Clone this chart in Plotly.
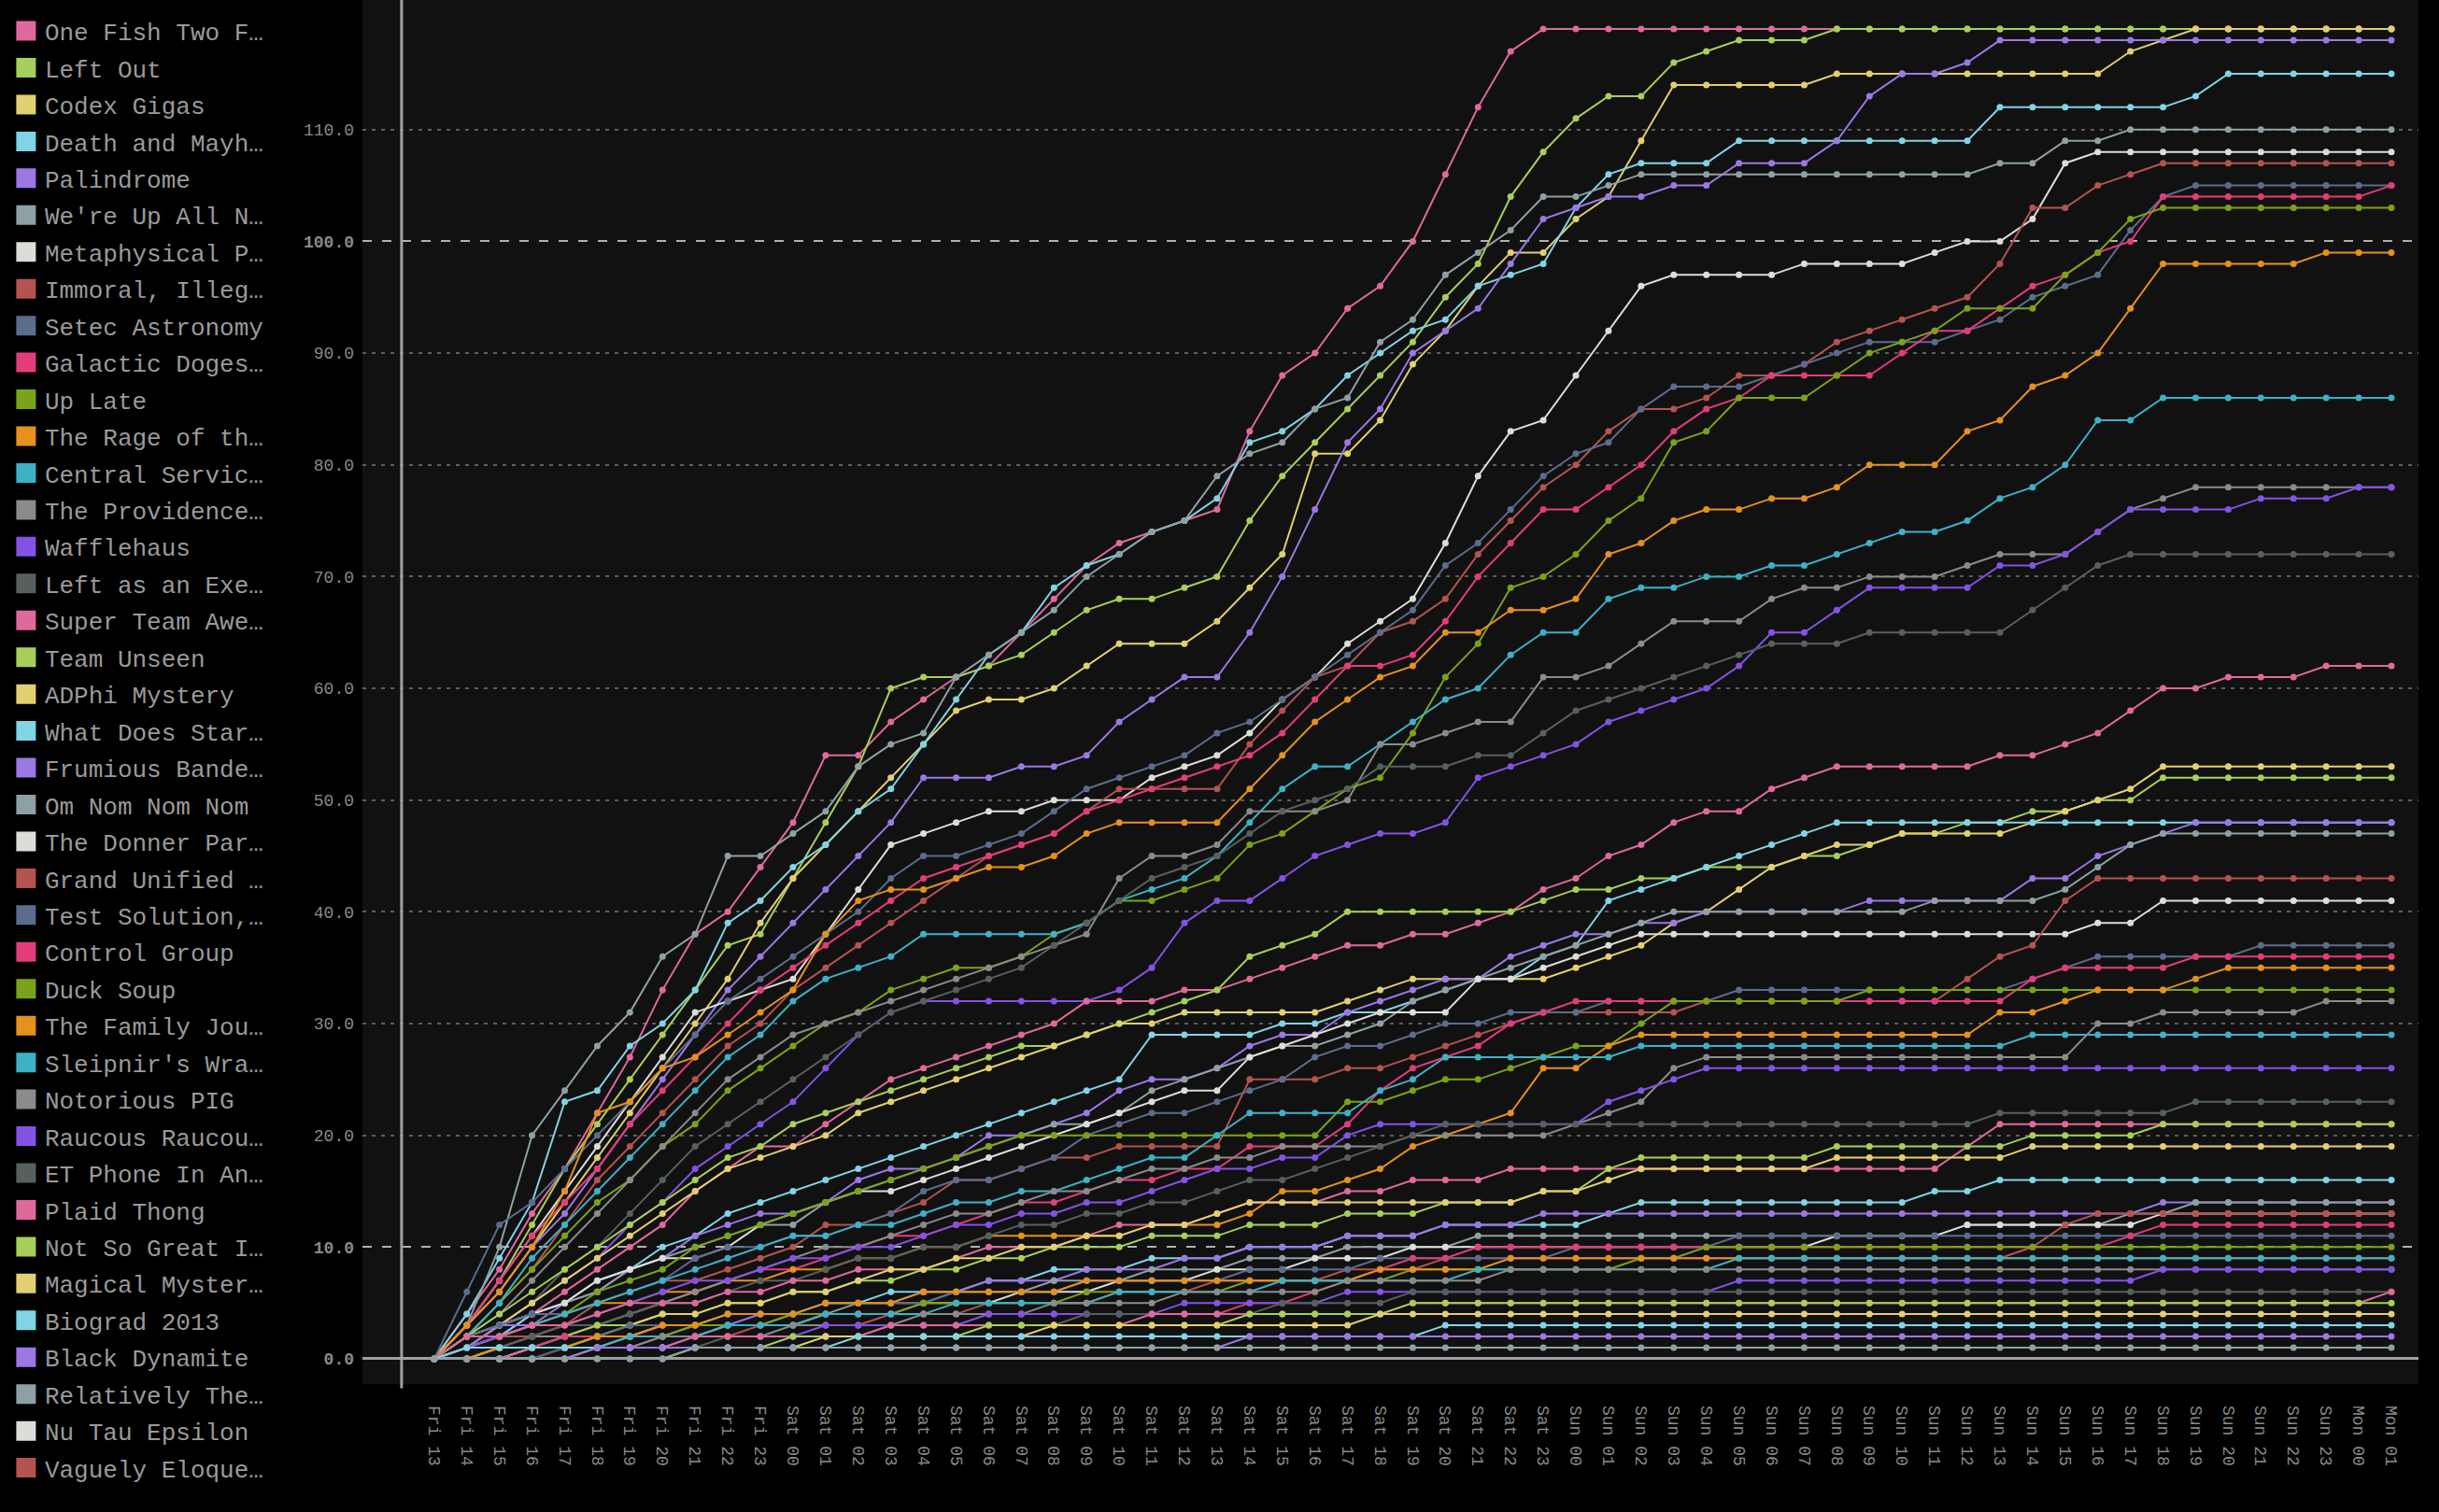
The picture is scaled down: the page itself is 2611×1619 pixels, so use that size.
import plotly.graph_objects as go

# hourly checkpoints, Fri 13:00 -> Mon 01:00
hours = ([f"Fri {h:02d}" for h in range(13, 24)]
         + [f"Sat {h:02d}" for h in range(24)]
         + [f"Sun {h:02d}" for h in range(24)]
         + ["Mon 00", "Mon 01"])

one_fish = [0, 4, 8, 13, 17, 22, 27, 33, 38, 40,
            44, 48, 54, 54, 57, 59, 61, 62, 65, 68,
            71, 73, 74, 75, 76, 83, 88, 90, 94, 96,
            100, 106, 112, 117, 119, 119, 119, 119, 119, 119,
            119, 119, 119, 119, 119, 119, 119, 119, 119, 119,
            119, 119, 119, 119, 119, 119, 119, 119, 119, 119, 119]
left_out = [0, 3, 7, 12, 17, 21, 25, 29, 33, 37,
            38, 43, 48, 53, 60, 61, 61, 62, 63, 65,
            67, 68, 68, 69, 70, 75, 79, 82, 85, 88,
            91, 95, 98, 104, 108, 111, 113, 113, 116, 117,
            118, 118, 118, 119, 119, 119, 119, 119, 119, 119,
            119, 119, 119, 119, 119, 119, 119, 119, 119, 119, 119]
codex_gigas = [0, 3, 6, 10, 14, 18, 22, 26, 30, 34,
               39, 43, 46, 49, 52, 55, 58, 59, 59, 60,
               62, 64, 64, 64, 66, 69, 72, 81, 81, 84,
               89, 92, 96, 99, 99, 102, 104, 109, 114, 114,
               114, 114, 114, 115, 115, 115, 115, 115, 115, 115,
               115, 115, 117, 118, 119, 119, 119, 119, 119, 119, 119]
death_mayhem = [0, 4, 9, 14, 23, 24, 28, 30, 33, 39,
                41, 44, 46, 49, 51, 55, 59, 63, 65, 69,
                71, 72, 74, 75, 77, 82, 83, 85, 88, 90,
                92, 93, 96, 97, 98, 103, 106, 107, 107, 107,
                109, 109, 109, 109, 109, 109, 109, 109, 112, 112,
                112, 112, 112, 112, 113, 115, 115, 115, 115, 115, 115]
palindrome = [0, 3, 6, 10, 13, 17, 21, 25, 29, 33,
              36, 39, 42, 45, 48, 52, 52, 52, 53, 53,
              54, 57, 59, 61, 61, 65, 70, 76, 82, 85,
              90, 92, 94, 98, 102, 103, 104, 104, 105, 105,
              107, 107, 107, 109, 113, 115, 115, 116, 118, 118,
              118, 118, 118, 118, 118, 118, 118, 118, 118, 118, 118]
up_all_night = [0, 3, 10, 20, 24, 28, 31, 36, 38, 45,
                45, 47, 49, 53, 55, 56, 61, 63, 65, 67,
                70, 72, 74, 75, 79, 81, 82, 85, 86, 91,
                93, 97, 99, 101, 104, 104, 105, 106, 106, 106,
                106, 106, 106, 106, 106, 106, 106, 106, 107, 107,
                109, 109, 110, 110, 110, 110, 110, 110, 110, 110, 110]
metaphysical = [0, 3, 7, 11, 15, 19, 23, 27, 31, 32,
                33, 34, 38, 42, 46, 47, 48, 49, 49, 50,
                50, 50, 52, 53, 54, 56, 59, 61, 64, 66,
                68, 73, 79, 83, 84, 88, 92, 96, 97, 97,
                97, 97, 98, 98, 98, 98, 99, 100, 100, 102,
                107, 108, 108, 108, 108, 108, 108, 108, 108, 108, 108]
immoral = [0, 2, 5, 8, 12, 16, 19, 22, 25, 28,
           30, 33, 35, 37, 39, 41, 43, 45, 46, 47,
           49, 51, 51, 51, 51, 55, 58, 61, 62, 65,
           66, 68, 72, 75, 78, 80, 83, 85, 85, 86,
           88, 88, 89, 91, 92, 93, 94, 95, 98, 103,
           103, 105, 106, 107, 107, 107, 107, 107, 107, 107, 107]
setec = [0, 6, 12, 14, 17, 20, 23, 26, 29, 32,
         34, 36, 38, 40, 43, 45, 45, 46, 47, 49,
         51, 52, 53, 54, 56, 57, 59, 61, 63, 65,
         67, 71, 73, 76, 79, 81, 82, 85, 87, 87,
         87, 88, 89, 90, 91, 91, 91, 92, 93, 95,
         96, 97, 101, 104, 105, 105, 105, 105, 105, 105, 105]
galactic = [0, 3, 7, 11, 14, 17, 21, 24, 27, 30,
            33, 35, 37, 39, 41, 43, 44, 45, 46, 47,
            49, 50, 51, 52, 53, 54, 56, 59, 62, 62,
            63, 66, 70, 73, 76, 76, 78, 80, 83, 85,
            86, 88, 88, 88, 88, 90, 92, 92, 94, 96,
            97, 99, 100, 104, 104, 104, 104, 104, 104, 104, 105]
up_late = [0, 2, 5, 8, 11, 14, 16, 19, 21, 24,
           26, 28, 30, 31, 33, 34, 35, 35, 36, 38,
           39, 41, 41, 42, 43, 46, 47, 49, 51, 52,
           56, 61, 64, 69, 70, 72, 75, 77, 82, 83,
           86, 86, 86, 88, 90, 91, 92, 94, 94, 94,
           97, 99, 102, 103, 103, 103, 103, 103, 103, 103, 103]
rage = [0, 3, 6, 10, 15, 22, 23, 26, 27, 29,
        31, 33, 38, 41, 42, 42, 43, 44, 44, 45,
        47, 48, 48, 48, 48, 51, 54, 57, 59, 61,
        62, 65, 65, 67, 67, 68, 72, 73, 75, 76,
        76, 77, 77, 78, 80, 80, 80, 83, 84, 87,
        88, 90, 94, 98, 98, 98, 98, 98, 99, 99, 99]
central = [0, 2, 5, 9, 12, 15, 18, 21, 24, 27,
           29, 32, 34, 35, 36, 38, 38, 38, 38, 38,
           39, 41, 42, 43, 45, 48, 51, 53, 53, 55,
           57, 59, 60, 63, 65, 65, 68, 69, 69, 70,
           70, 71, 71, 72, 73, 74, 74, 75, 77, 78,
           80, 84, 84, 86, 86, 86, 86, 86, 86, 86, 86]
providence = [0, 2, 4, 7, 10, 13, 16, 19, 22, 25,
              27, 29, 30, 31, 32, 33, 34, 35, 36, 37,
              38, 43, 45, 45, 46, 49, 49, 49, 50, 55,
              55, 56, 57, 57, 61, 61, 62, 64, 66, 66,
              66, 68, 69, 69, 70, 70, 70, 71, 72, 72,
              72, 74, 76, 77, 78, 78, 78, 78, 78, 78, 78]
wafflehaus = [0, 1, 3, 5, 7, 9, 12, 14, 17, 19,
              21, 23, 26, 29, 31, 32, 32, 32, 32, 32,
              32, 33, 35, 39, 41, 41, 43, 45, 46, 47,
              47, 48, 52, 53, 54, 55, 57, 58, 59, 60,
              62, 65, 65, 67, 69, 69, 69, 69, 71, 71,
              72, 74, 76, 76, 76, 76, 77, 77, 77, 78, 78]
exercise = [0, 1, 3, 5, 8, 10, 13, 16, 19, 21,
            23, 25, 27, 29, 31, 32, 33, 34, 35, 37,
            39, 41, 43, 44, 45, 47, 49, 50, 51, 53,
            53, 53, 54, 54, 56, 58, 59, 60, 61, 62,
            63, 64, 64, 64, 65, 65, 65, 65, 65, 67,
            69, 71, 72, 72, 72, 72, 72, 72, 72, 72, 72]
super_team = [0, 1, 2, 4, 6, 8, 10, 12, 15, 17,
              19, 19, 21, 23, 25, 26, 27, 28, 29, 30,
              32, 32, 32, 33, 33, 34, 35, 36, 37, 37,
              38, 38, 39, 40, 42, 43, 45, 46, 48, 49,
              49, 51, 52, 53, 53, 53, 53, 53, 54, 54,
              55, 56, 58, 60, 60, 61, 61, 61, 62, 62, 62]
team_unseen = [0, 2, 4, 6, 8, 10, 12, 14, 16, 18,
               19, 21, 22, 23, 24, 25, 26, 27, 28, 28,
               29, 30, 31, 32, 33, 36, 37, 38, 40, 40,
               40, 40, 40, 40, 41, 42, 42, 43, 43, 44,
               44, 44, 45, 45, 46, 47, 47, 48, 48, 49,
               49, 50, 50, 52, 52, 52, 52, 52, 52, 52, 52]
adphi = [0, 1, 3, 5, 7, 9, 11, 13, 15, 17,
         18, 19, 20, 22, 23, 24, 25, 26, 27, 28,
         29, 30, 30, 31, 31, 31, 31, 31, 32, 33,
         34, 34, 34, 34, 34, 35, 36, 37, 39, 40,
         42, 44, 45, 46, 46, 47, 47, 47, 47, 48,
         49, 50, 51, 53, 53, 53, 53, 53, 53, 53, 53]
what_does = [0, 1, 2, 4, 5, 7, 8, 10, 11, 13,
             14, 15, 16, 17, 18, 19, 20, 21, 22, 23,
             24, 25, 29, 29, 29, 29, 30, 30, 31, 31,
             32, 33, 34, 34, 36, 37, 41, 42, 43, 44,
             45, 46, 47, 48, 48, 48, 48, 48, 48, 48,
             48, 48, 48, 48, 48, 48, 48, 48, 48, 48, 48]
frumious = [0, 1, 3, 3, 5, 6, 8, 9, 11, 12,
            13, 13, 14, 16, 17, 17, 18, 20, 20, 21,
            22, 24, 25, 25, 26, 28, 29, 29, 31, 32,
            33, 34, 34, 36, 37, 38, 38, 39, 39, 40,
            40, 40, 40, 40, 41, 41, 41, 41, 41, 43,
            43, 45, 46, 47, 48, 48, 48, 48, 48, 48, 48]
om_nom = [0, 2, 3, 4, 5, 6, 8, 9, 10, 11,
          12, 12, 14, 15, 16, 17, 18, 19, 20, 21,
          21, 22, 24, 25, 26, 27, 28, 28, 29, 30,
          32, 33, 34, 35, 36, 37, 38, 39, 40, 40,
          40, 40, 40, 40, 40, 40, 41, 41, 41, 41,
          42, 44, 46, 47, 47, 47, 47, 47, 47, 47, 47]
donner = [0, 2, 3, 4, 5, 7, 8, 9, 9, 10,
          12, 13, 14, 15, 15, 16, 17, 18, 19, 20,
          21, 22, 23, 24, 24, 27, 28, 29, 30, 31,
          31, 31, 34, 34, 35, 36, 37, 38, 38, 38,
          38, 38, 38, 38, 38, 38, 38, 38, 38, 38,
          38, 39, 39, 41, 41, 41, 41, 41, 41, 41, 41]
grand_unified = [0, 1, 2, 2, 3, 5, 6, 7, 7, 8,
                 9, 10, 12, 12, 13, 14, 16, 16, 17, 18,
                 18, 19, 19, 19, 19, 25, 25, 25, 26, 26,
                 27, 28, 29, 30, 31, 31, 31, 31, 31, 32,
                 32, 32, 32, 32, 32, 32, 32, 34, 36, 37,
                 41, 43, 43, 43, 43, 43, 43, 43, 43, 43, 43]
test_solution = [0, 2, 3, 4, 4, 5, 6, 7, 9, 10,
                 10, 11, 11, 12, 13, 15, 16, 16, 17, 18,
                 20, 21, 22, 22, 23, 24, 25, 27, 28, 28,
                 29, 30, 30, 31, 31, 31, 32, 32, 32, 32,
                 33, 33, 33, 33, 33, 33, 33, 33, 33, 34,
                 35, 36, 36, 36, 36, 36, 37, 37, 37, 37, 37]
control_group = [0, 1, 1, 2, 3, 3, 4, 5, 6, 7,
                 8, 8, 9, 10, 11, 11, 12, 13, 14, 14,
                 15, 16, 16, 17, 17, 19, 19, 19, 21, 24,
                 26, 27, 28, 30, 31, 32, 32, 32, 32, 32,
                 32, 32, 32, 32, 32, 32, 32, 32, 32, 34,
                 35, 35, 35, 35, 36, 36, 36, 36, 36, 36, 36]
duck_soup = [0, 1, 2, 3, 4, 6, 7, 8, 10, 11,
             12, 13, 14, 15, 16, 17, 18, 19, 20, 20,
             20, 20, 20, 20, 20, 20, 20, 20, 23, 23,
             24, 25, 25, 26, 27, 28, 28, 30, 32, 32,
             32, 32, 32, 32, 33, 33, 33, 33, 33, 33,
             33, 33, 33, 33, 33, 33, 33, 33, 33, 33, 33]
family = [0, 1, 2, 3, 4, 5, 5, 6, 6, 7,
          7, 8, 8, 9, 9, 10, 10, 11, 11, 11,
          11, 11, 12, 12, 12, 13, 15, 15, 16, 17,
          19, 20, 21, 22, 26, 26, 28, 29, 29, 29,
          29, 29, 29, 29, 29, 29, 29, 29, 31, 31,
          32, 33, 33, 33, 34, 35, 35, 35, 35, 35, 35]
sleipnir = [0, 1, 2, 3, 4, 5, 6, 7, 8, 9,
            10, 11, 11, 12, 12, 13, 14, 14, 15, 15,
            16, 17, 18, 18, 20, 22, 22, 22, 22, 24,
            25, 27, 27, 27, 27, 27, 27, 28, 28, 28,
            28, 28, 28, 28, 28, 28, 28, 28, 28, 29,
            29, 29, 29, 29, 29, 29, 29, 29, 29, 29, 29]
notorious = [0, 1, 1, 2, 2, 3, 4, 5, 6, 7,
             8, 9, 10, 10, 11, 12, 13, 13, 14, 15,
             15, 16, 17, 17, 18, 18, 19, 19, 19, 19,
             20, 20, 20, 20, 20, 21, 22, 23, 26, 27,
             27, 27, 27, 27, 27, 27, 27, 27, 27, 27,
             27, 30, 30, 31, 31, 31, 31, 31, 32, 32, 32]
raucous = [0, 1, 2, 3, 3, 4, 5, 6, 7, 7,
           8, 9, 9, 10, 10, 11, 12, 12, 13, 13,
           14, 14, 15, 16, 17, 17, 18, 18, 20, 21,
           21, 21, 21, 21, 21, 21, 23, 24, 25, 26,
           26, 26, 26, 26, 26, 26, 26, 26, 26, 26,
           26, 26, 26, 26, 26, 26, 26, 26, 26, 26, 26]
et_phone = [0, 1, 1, 2, 3, 3, 4, 5, 5, 6,
            7, 7, 8, 9, 9, 10, 10, 11, 12, 12,
            13, 13, 14, 14, 15, 16, 16, 17, 18, 19,
            20, 21, 21, 21, 21, 21, 21, 21, 21, 21,
            21, 21, 21, 21, 21, 21, 21, 21, 22, 22,
            22, 22, 22, 22, 23, 23, 23, 23, 23, 23, 23]
plaid_thong = [0, 2, 2, 3, 3, 4, 5, 5, 5, 6,
               6, 7, 7, 8, 8, 8, 9, 10, 10, 10,
               11, 12, 12, 12, 13, 14, 14, 14, 15, 15,
               16, 16, 16, 17, 17, 17, 17, 17, 17, 17,
               17, 17, 17, 17, 17, 17, 17, 19, 21, 21,
               21, 21, 21, 21, 21, 21, 21, 21, 21, 21, 21]
not_so_great = [0, 0, 1, 1, 2, 3, 3, 4, 4, 5,
                5, 6, 6, 7, 7, 8, 8, 9, 9, 10,
                10, 10, 11, 11, 11, 12, 12, 12, 13, 13,
                13, 14, 14, 14, 15, 15, 17, 18, 18, 18,
                18, 18, 18, 19, 19, 19, 19, 19, 19, 20,
                20, 20, 20, 21, 21, 21, 21, 21, 21, 21, 21]
magical = [0, 0, 1, 1, 2, 2, 3, 4, 4, 5,
           5, 6, 6, 7, 8, 8, 9, 9, 10, 10,
           11, 11, 12, 12, 13, 14, 14, 14, 14, 14,
           14, 14, 14, 14, 15, 15, 16, 17, 17, 17,
           17, 17, 17, 18, 18, 18, 18, 18, 18, 19,
           19, 19, 19, 19, 19, 19, 19, 19, 19, 19, 19]
biograd = [0, 0, 1, 1, 1, 2, 2, 3, 3, 4,
           4, 4, 5, 5, 6, 6, 6, 7, 7, 8,
           8, 8, 9, 9, 9, 10, 10, 10, 11, 11,
           11, 12, 12, 12, 12, 12, 13, 14, 14, 14,
           14, 14, 14, 14, 14, 14, 15, 15, 16, 16,
           16, 16, 16, 16, 16, 16, 16, 16, 16, 16, 16]
black_dynamite = [0, 0, 0, 1, 1, 2, 2, 3, 3, 3,
                  4, 4, 5, 5, 5, 6, 6, 7, 7, 7,
                  8, 8, 8, 9, 9, 10, 10, 10, 11, 11,
                  11, 12, 12, 12, 13, 13, 13, 13, 13, 13,
                  13, 13, 13, 13, 13, 13, 13, 13, 13, 13,
                  13, 13, 13, 14, 14, 14, 14, 14, 14, 14, 14]
relatively = [0, 0, 1, 1, 1, 2, 2, 2, 3, 3,
              3, 4, 4, 5, 5, 5, 6, 6, 6, 7,
              7, 7, 8, 8, 8, 9, 9, 9, 10, 10,
              10, 10, 11, 11, 11, 11, 11, 11, 11, 11,
              11, 11, 11, 11, 11, 11, 11, 12, 12, 12,
              12, 12, 13, 13, 14, 14, 14, 14, 14, 14, 14]
nu_tau = [0, 0, 0, 1, 1, 1, 2, 2, 2, 3,
          3, 3, 4, 4, 4, 5, 5, 5, 6, 6,
          6, 7, 7, 7, 8, 8, 8, 9, 9, 9,
          10, 10, 10, 10, 10, 10, 10, 10, 10, 10,
          10, 10, 10, 11, 11, 11, 11, 12, 12, 12,
          12, 12, 12, 13, 13, 13, 13, 13, 13, 13, 13]
vaguely = [0, 0, 0, 0, 1, 1, 1, 2, 2, 2,
           3, 3, 3, 3, 4, 4, 4, 5, 5, 5,
           5, 6, 6, 6, 7, 7, 7, 7, 8, 8,
           8, 9, 9, 9, 9, 9, 9, 9, 9, 9,
           9, 9, 9, 9, 9, 9, 9, 9, 9, 10,
           12, 13, 13, 13, 13, 13, 13, 13, 13, 13, 13]
# teams below the visible part of the legend
rank41 = [0, 0, 1, 1, 2, 2, 3, 3, 3, 4,
          4, 4, 5, 5, 5, 5, 6, 6, 6, 6,
          7, 7, 7, 7, 7, 8, 8, 8, 8, 9,
          9, 9, 9, 9, 9, 10, 10, 10, 10, 10,
          11, 11, 11, 11, 11, 11, 11, 11, 11, 11,
          11, 11, 11, 11, 11, 11, 11, 11, 11, 11, 11]
rank42 = [0, 0, 1, 1, 2, 2, 2, 3, 3, 3,
          3, 3, 4, 4, 4, 4, 4, 4, 4, 4,
          4, 4, 4, 4, 4, 5, 5, 6, 7, 8,
          9, 9, 10, 10, 10, 10, 10, 10, 10, 10,
          10, 10, 10, 10, 10, 10, 10, 10, 10, 10,
          10, 10, 11, 12, 12, 12, 12, 12, 12, 12, 12]
rank43 = [0, 0, 1, 1, 1, 2, 2, 2, 3, 3,
          3, 4, 4, 4, 4, 5, 5, 5, 5, 5,
          6, 6, 6, 6, 6, 7, 7, 7, 7, 7,
          8, 8, 8, 8, 8, 8, 8, 9, 9, 10,
          10, 10, 10, 10, 10, 10, 10, 10, 10, 10,
          10, 10, 10, 10, 10, 10, 10, 10, 10, 10, 10]
rank44 = [0, 0, 1, 1, 1, 2, 2, 3, 3, 4,
          4, 4, 5, 5, 5, 6, 6, 6, 6, 6,
          7, 7, 7, 7, 7, 7, 7, 7, 7, 8,
          8, 8, 8, 9, 9, 9, 9, 9, 9, 9,
          9, 9, 9, 9, 9, 9, 9, 9, 9, 9,
          9, 9, 9, 9, 9, 9, 9, 9, 9, 9, 9]
rank45 = [0, 0, 0, 1, 1, 1, 2, 2, 2, 3,
          3, 3, 4, 4, 4, 4, 5, 5, 5, 5,
          5, 6, 6, 6, 6, 6, 7, 7, 7, 7,
          7, 7, 8, 8, 8, 8, 8, 8, 8, 8,
          9, 9, 9, 9, 9, 9, 9, 9, 9, 9,
          9, 9, 9, 9, 9, 9, 9, 9, 9, 9, 9]
rank46 = [0, 0, 0, 1, 1, 1, 1, 2, 2, 2,
          2, 3, 3, 3, 3, 4, 4, 4, 4, 5,
          5, 5, 5, 6, 6, 6, 6, 6, 7, 7,
          7, 7, 7, 8, 8, 8, 8, 8, 8, 8,
          8, 8, 8, 8, 8, 8, 8, 8, 8, 8,
          8, 8, 8, 8, 8, 8, 8, 8, 8, 8, 8]
rank47 = [0, 0, 0, 0, 1, 1, 1, 1, 2, 2,
          2, 2, 3, 3, 3, 3, 3, 4, 4, 4,
          4, 4, 4, 5, 5, 5, 5, 5, 6, 6,
          6, 6, 6, 6, 6, 6, 6, 6, 6, 6,
          7, 7, 7, 7, 7, 7, 7, 7, 7, 7,
          7, 7, 7, 8, 8, 8, 8, 8, 8, 8, 8]
rank48 = [0, 0, 0, 0, 1, 1, 1, 1, 1, 2,
          2, 2, 2, 2, 3, 3, 3, 3, 3, 3,
          4, 4, 4, 4, 4, 4, 5, 5, 5, 5,
          6, 6, 6, 6, 6, 6, 6, 6, 6, 6,
          6, 6, 6, 6, 6, 6, 6, 6, 6, 6,
          6, 6, 6, 6, 6, 6, 6, 6, 6, 6, 6]
rank49 = [0, 0, 0, 1, 1, 1, 1, 1, 2, 2,
          2, 2, 2, 2, 3, 3, 3, 3, 3, 3,
          3, 3, 4, 4, 4, 4, 4, 4, 4, 4,
          5, 5, 5, 5, 5, 5, 5, 5, 5, 5,
          5, 5, 5, 5, 5, 5, 5, 5, 5, 5,
          5, 5, 5, 5, 5, 5, 5, 5, 5, 5, 6]
rank50 = [0, 0, 0, 0, 0, 1, 1, 1, 1, 1,
          1, 2, 2, 2, 2, 2, 2, 3, 3, 3,
          3, 3, 3, 3, 3, 4, 4, 4, 4, 4,
          5, 5, 5, 5, 5, 5, 5, 5, 5, 5,
          5, 5, 5, 5, 5, 5, 5, 5, 5, 5,
          5, 5, 5, 5, 5, 5, 5, 5, 5, 5, 5]
rank51 = [0, 0, 0, 0, 0, 0, 0, 0, 1, 1,
          1, 1, 2, 2, 2, 2, 2, 2, 2, 3,
          3, 3, 3, 3, 3, 3, 3, 3, 3, 4,
          4, 4, 4, 4, 4, 4, 4, 4, 4, 4,
          4, 4, 4, 4, 4, 4, 4, 4, 4, 4,
          4, 4, 4, 4, 4, 4, 4, 4, 4, 4, 4]
rank52 = [0, 1, 1, 1, 1, 1, 1, 1, 1, 1,
          1, 1, 1, 2, 2, 2, 2, 2, 2, 2,
          2, 2, 2, 2, 2, 2, 2, 2, 2, 2,
          2, 3, 3, 3, 3, 3, 3, 3, 3, 3,
          3, 3, 3, 3, 3, 3, 3, 3, 3, 3,
          3, 3, 3, 3, 3, 3, 3, 3, 3, 3, 3]
rank53 = [0, 0, 0, 0, 0, 1, 1, 1, 1, 1,
          1, 1, 1, 1, 1, 1, 1, 1, 1, 1,
          1, 1, 1, 1, 1, 2, 2, 2, 2, 2,
          2, 2, 2, 2, 2, 2, 2, 2, 2, 2,
          2, 2, 2, 2, 2, 2, 2, 2, 2, 2,
          2, 2, 2, 2, 2, 2, 2, 2, 2, 2, 2]
rank54 = [0, 0, 0, 0, 0, 0, 0, 0, 1, 1,
          1, 1, 1, 1, 1, 1, 1, 1, 1, 1,
          1, 1, 1, 1, 1, 1, 1, 1, 1, 1,
          1, 1, 1, 1, 1, 1, 1, 1, 1, 1,
          1, 1, 1, 1, 1, 1, 1, 1, 1, 1,
          1, 1, 1, 1, 1, 1, 1, 1, 1, 1, 1]

teams = [
    ("One Fish Two F…", one_fish), ("Left Out", left_out),
    ("Codex Gigas", codex_gigas), ("Death and Mayh…", death_mayhem),
    ("Palindrome", palindrome), ("We're Up All N…", up_all_night),
    ("Metaphysical P…", metaphysical), ("Immoral, Illeg…", immoral),
    ("Setec Astronomy", setec), ("Galactic Doges…", galactic),
    ("Up Late", up_late), ("The Rage of th…", rage),
    ("Central Servic…", central), ("The Providence…", providence),
    ("Wafflehaus", wafflehaus), ("Left as an Exe…", exercise),
    ("Super Team Awe…", super_team), ("Team Unseen", team_unseen),
    ("ADPhi Mystery", adphi), ("What Does Star…", what_does),
    ("Frumious Bande…", frumious), ("Om Nom Nom Nom", om_nom),
    ("The Donner Par…", donner), ("Grand Unified …", grand_unified),
    ("Test Solution,…", test_solution), ("Control Group", control_group),
    ("Duck Soup", duck_soup), ("The Family Jou…", family),
    ("Sleipnir's Wra…", sleipnir), ("Notorious PIG", notorious),
    ("Raucous Raucou…", raucous), ("ET Phone In An…", et_phone),
    ("Plaid Thong", plaid_thong), ("Not So Great I…", not_so_great),
    ("Magical Myster…", magical), ("Biograd 2013", biograd),
    ("Black Dynamite", black_dynamite), ("Relatively The…", relatively),
    ("Nu Tau Epsilon", nu_tau), ("Vaguely Eloque…", vaguely),
]
hidden = [rank41, rank42, rank43, rank44, rank45, rank46, rank47,
          rank48, rank49, rank50, rank51, rank52, rank53, rank54]

palette = ["#e0699c", "#a7cf59", "#e2cf70", "#80d4e6", "#9b78e4", "#8fa0a5",
           "#dcdcd8", "#b45350", "#5c6c8d", "#e23d7b", "#7ba318", "#e5911d",
           "#3db1c7", "#8b8b8b", "#8452e4", "#56605f"]

bad = [n for n, v in teams if len(v) != len(hours)]
bad += [i for i, v in enumerate(hidden) if len(v) != len(hours)]
if bad:
    raise SystemExit(f"wrong lengths: {bad}")

series = [(n, v) for n, v in teams] + [("", v) for v in hidden]

fig = go.Figure()
for i, (name, vals) in enumerate(series):
    color = palette[i % len(palette)]
    group = f"team{i}"
    fig.add_trace(go.Scatter(
        x=hours, y=vals, mode="lines+markers", name=name or None,
        line=dict(color=color, width=2),
        marker=dict(color=color, size=7),
        legendgroup=group, showlegend=False,
    ))
    if name:
        # square swatch for the legend
        fig.add_trace(go.Scatter(
            x=[None], y=[None], mode="markers", name=name,
            marker=dict(symbol="square", size=16, color=color,
                        line=dict(color=color, width=5)),
            legendgroup=group, showlegend=True,
        ))

yticks = list(range(0, 120, 10))
strong = [0, 10, 100]
ytext = [f"<b>{v:.1f}</b>" if v in strong else f"{v:.1f}" for v in yticks]
yrange = [-2.26, 121.6]

# empty traces that carry the two grid-only overlay axes
fig.add_trace(go.Scatter(x=[None], y=[None], yaxis="y2", showlegend=False, hoverinfo="skip"))
fig.add_trace(go.Scatter(x=[None], y=[None], yaxis="y3", showlegend=False, hoverinfo="skip"))

legend = dict(x=-0.1727, xanchor="left", y=0.9935, yanchor="top",
              font=dict(size=26, color="#9a9a9a"),
              tracegroupgap=2.65, bgcolor="rgba(0,0,0,0)", itemwidth=30)
if "maxheight" in go.layout.Legend()._valid_props:
    legend["maxheight"] = 1700

fig.update_layout(
    width=2611, height=1619,
    paper_bgcolor="#000000", plot_bgcolor="#111111",
    margin=dict(l=388, r=22, t=0, b=137, autoexpand=False),
    font=dict(family="Liberation Mono, Courier New, monospace", color="#8a8a8a"),
    legend=legend,
    hovermode="closest",
    yaxis2=dict(overlaying="y", range=yrange, tickmode="array",
                tickvals=[v for v in yticks if v not in strong],
                showticklabels=False, ticks="", zeroline=False, showline=False,
                showgrid=True, gridcolor="#5e5e5e", gridwidth=2, griddash="4px,6px"),
    yaxis3=dict(overlaying="y", range=yrange, tickmode="array",
                tickvals=strong[1:],
                showticklabels=False, ticks="", zeroline=False, showline=False,
                showgrid=True, gridcolor="#b0b0b0", gridwidth=2, griddash="10px,11px"),
)

# vertical axis rule left of the first hour
fig.add_shape(type="line", xref="x", yref="paper", x0=-1, x1=-1, y0=-0.003, y1=1,
              line=dict(color="#a0a0a0", width=3))

fig.update_xaxes(
    type="category", range=[-2.2, 60.83], showgrid=False, zeroline=False,
    showline=False, ticks="", tickangle=90, ticklabelstandoff=22,
    tickfont=dict(size=18, color="#8a8a8a"),
)
fig.update_layout(yaxis=dict(
    range=yrange, tickmode="array", tickvals=yticks, ticktext=ytext,
    showgrid=False,
    zeroline=True, zerolinecolor="#a0a0a0", zerolinewidth=3,
    showline=False, ticks="", ticklabelstandoff=8,
    tickfont=dict(size=18, color="#8a8a8a"),
))

fig.write_html("out.html", config={"displayModeBar": False},
               post_script="document.body.style.margin='0';")
